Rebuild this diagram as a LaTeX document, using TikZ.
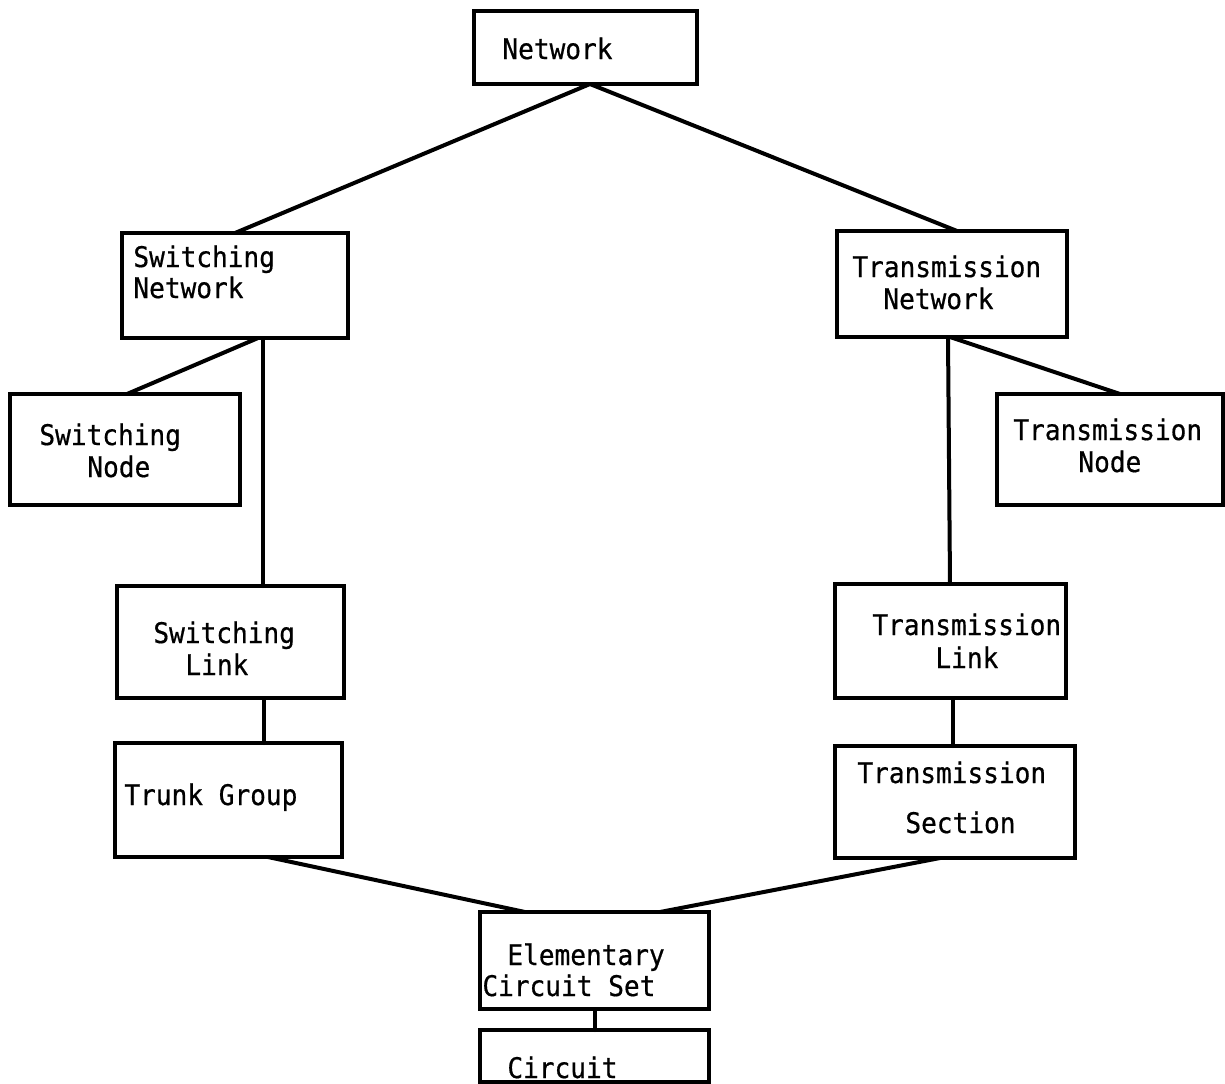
\documentclass[tikz,border=0pt]{standalone}
\usepackage{fontspec}
\setmonofont[FakeStretch=0.92,FakeBold=0.6]{DejaVu Sans Mono}
\usetikzlibrary{calc}
\begin{document}
\begin{tikzpicture}[x=0.5pt,y=-0.5pt,
  box/.style={draw, line width=1.6pt, inner sep=0pt, outer sep=0pt},
  lbl/.style={anchor=base west, inner sep=0pt, font=\ttfamily\fontsize{14.2}{16}\selectfont},
  link/.style={line width=2pt, line cap=round}]
\useasboundingbox (0,0) rectangle (1225,1083);
% boxes: \mkbox{name}{x1}{y1}{x2}{y2}
\newcommand\mkbox[5]{%
  \pgfmathsetmacro\bw{(#4-#2)*0.5}\pgfmathsetmacro\bh{(#5-#3)*0.5}%
  \node[box, minimum width=\bw pt, minimum height=\bh pt] (#1) at ({(#2+#4)/2},{(#3+#5)/2}) {};}
\mkbox{net}{474}{11}{697}{84}
\mkbox{swn}{122}{233}{348}{338}
\mkbox{trn}{837}{231}{1067}{337}
\mkbox{swnode}{10}{394}{240}{505}
\mkbox{trnode}{997}{394}{1223}{505}
\mkbox{swl}{117}{586}{344}{698}
\mkbox{trl}{835}{584}{1066}{698}
\mkbox{tg}{115}{743}{342}{857}
\mkbox{ts}{835}{746}{1075}{858}
\mkbox{ecs}{480}{912}{709}{1009}
\mkbox{cir}{480}{1030}{709}{1082}

% labels
\node[lbl] (tnet) at (502,59) {Network};
\node[lbl] (tswn1) at (133,267) {Switching};
\node[lbl] (tswn2) at (133,298) {Network};
\node[lbl] (ttrn1) at (852,277) {Transmission};
\node[lbl] (ttrn2) at (883,309) {Network};
\node[lbl] (tswnode1) at (39,445) {Switching};
\node[lbl] (tswnode2) at (87,477) {Node};
\node[lbl] (ttrnode1) at (1013,440) {Transmission};
\node[lbl] (ttrnode2) at (1078,472) {Node};
\node[lbl] (tswl1) at (153,643) {Switching};
\node[lbl] (tswl2) at (185,675) {Link};
\node[lbl] (ttrl1) at (872,635) {Transmission};
\node[lbl] (ttrl2) at (935,668) {Link};
\node[lbl] (ttg) at (124,805) {Trunk Group};
\node[lbl] (tts1) at (857,783) {Transmission};
\node[lbl] (tts2) at (905,833) {Section};
\node[lbl] (tecs1) at (507,965) {Elementary};
\node[lbl] (tecs2) at (482,996) {Circuit Set};
\node[lbl] (tcir) at (507,1078) {Circuit};

% connectors
\draw[link] ($(net.south)+(4.5,0)$) -- (swn.north);
\draw[link] ($(net.south)+(4.5,0)$) -- ($(trn.north)+(5,0)$);
\draw[link] ($(swn.south)+(23,0)$) -- ($(swnode.north)+(2,0)$);
\draw[link] ($(swn.south)+(28,0)$) -- ($(swl.north)+(32.5,0)$);
\draw[link] ($(trn.south)+(-4,0)$) -- ($(trl.north)+(-0.5,0)$);
\draw[link] ($(trn.south)+(-2,0)$) -- ($(trnode.north)+(10,0)$);
\draw[link] ($(swl.south)+(33.5,0)$) -- ($(tg.north)+(35.5,0)$);
\draw[link] ($(trl.south)+(2.5,0)$) -- ($(ts.north)+(-2,0)$);
\draw[link] ($(tg.south)+(39.5,0)$) -- ($(ecs.north)+(-69.5,0)$);
\draw[link] ($(ts.south)+(-15,0)$) -- ($(ecs.north)+(65.5,0)$);
\draw[link] ($(ecs.south)+(0.5,0)$) -- ($(cir.north)+(0.5,0)$);
\end{tikzpicture}
\end{document}
